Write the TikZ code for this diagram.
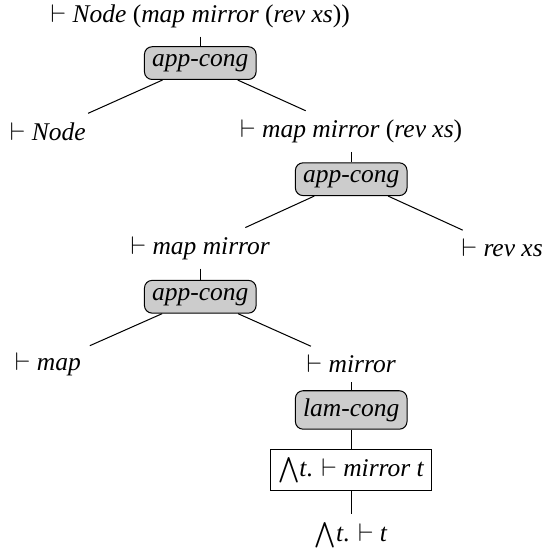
\documentclass[tikz,border=0pt]{standalone}
\usepackage{fontspec}
\setmainfont{Liberation Serif}[
	UprightFont={Liberation Serif},
	ItalicFont={Liberation Serif Italic},
	BoldFont={Liberation Serif Bold}]
\usepackage{tikz}

\begin{document}
\begin{tikzpicture}[
	rulebox/.style={draw, fill=gray!40, rounded corners=3pt, inner sep=3pt},
	goalbox/.style={draw, fill=white, inner sep=3pt}]
			\useasboundingbox (0,0) rectangle (7.50,7.69);

			\node (g0) at (2.76,7.47) {$\vdash$ \textit{Node} (\textit{map mirror} (\textit{rev xs}))};
			\node (r1) at (2.76,6.82) [rulebox] {\textit{app-cong}};
			\node (g1) at (0.66,5.88) {$\vdash$ \textit{Node}};
			\node (g2) at (4.84,5.88) {$\vdash$ \textit{map mirror} (\textit{rev xs})};
			\node (r2) at (4.84,5.22) [rulebox] {\textit{app-cong}};
			\node (g3) at (2.76,4.27) {$\vdash$ \textit{map mirror}};
			\node (g4) at (6.92,4.27) {$\vdash$ \textit{rev xs}};
			\node (r3) at (2.76,3.60) [rulebox] {\textit{app-cong}};
			\node (g5) at (0.66,2.67) {$\vdash$ \textit{map}};
			\node (g6) at (4.84,2.67) {$\vdash$ \textit{mirror}};
			\node (r4) at (4.84,2.04) [rulebox] {\textit{lam-cong}};
			\node (g7) at (4.84,1.21) [goalbox] {$\bigwedge$\textit{t}. $\vdash$ \textit{mirror t}};
			\node (g8) at (4.84,0.31) {$\bigwedge$\textit{t}. $\vdash$ \textit{t}};

			\draw (g0) -- (r1);
			\draw (r1) -- (g1);
			\draw (r1) -- (g2);
			\draw (g2) -- (r2);
			\draw (r2) -- (g3);
			\draw (r2) -- (g4);
			\draw (g3) -- (r3);
			\draw (r3) -- (g5);
			\draw (r3) -- (g6);
			\draw (g6) -- (r4);
			\draw (r4) -- (g7);
			\draw (g7) -- (g8);
		\end{tikzpicture}
\end{document}
